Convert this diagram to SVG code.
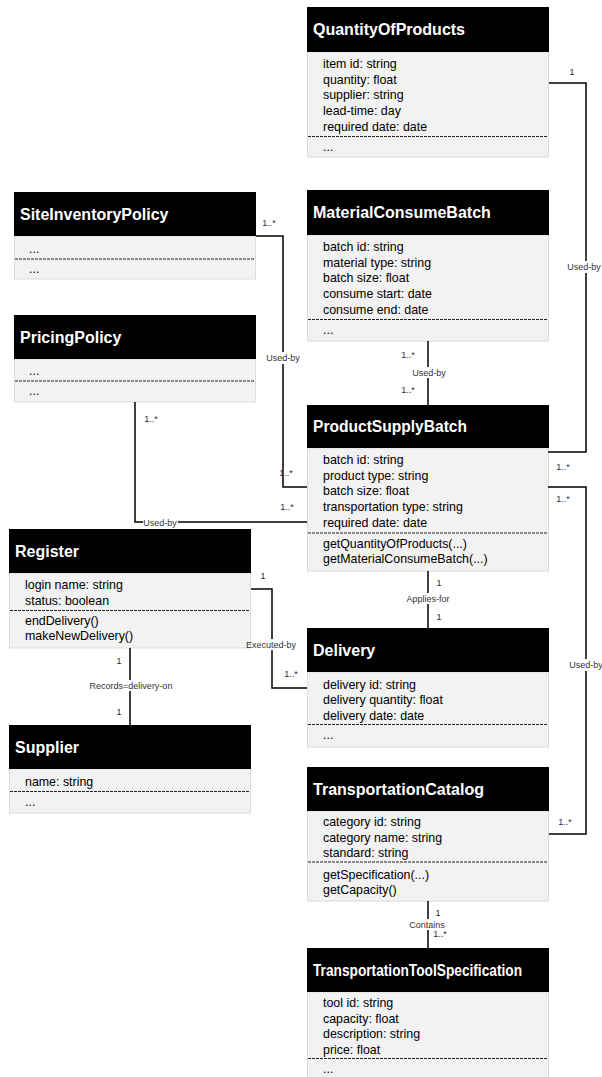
<svg xmlns="http://www.w3.org/2000/svg" width="602" height="1077" viewBox="0 0 602 1077">
<style>
.hd{fill:#000}
.bd{fill:#f2f2f2;stroke:#dcdcdc;stroke-width:1}
.tt{font-family:"Liberation Sans",Arial,sans-serif;font-weight:bold;font-size:16px;fill:#fff}
.at{font-family:"Liberation Sans",Arial,sans-serif;font-size:12.4px;fill:#000}
.dl{stroke:#222;stroke-width:1;stroke-dasharray:3,1}
.cn{fill:none;stroke:#000;stroke-width:1.5}
.lb{font-family:"Liberation Sans",Arial,sans-serif;font-size:9px;fill:#333;text-anchor:middle}
.mu{font-family:"Liberation Sans",Arial,sans-serif;font-size:9px;fill:#1f2a44;text-anchor:middle}
.bg{fill:#fff}
</style>
<rect width="602" height="1077" fill="#fff"/>

<g id="QuantityOfProducts">
  <rect class="bd" x="307.5" y="52" width="241" height="105"/>
  <rect class="hd" x="307" y="7" width="242" height="45"/>
  <text class="tt" x="313" y="35">QuantityOfProducts</text>
  <text class="at" x="323" y="68">item id: string</text>
  <text class="at" x="323" y="83.7">quantity: float</text>
  <text class="at" x="323" y="99.4">supplier: string</text>
  <text class="at" x="323" y="115.1">lead-time: day</text>
  <text class="at" x="323" y="130.8">required date: date</text>
  <line class="dl" x1="308" y1="136.5" x2="548" y2="136.5"/>
  <text class="at" x="323" y="150.5">...</text>
</g>

<g id="MaterialConsumeBatch">
  <rect class="bd" x="307.5" y="235" width="241" height="106"/>
  <rect class="hd" x="307" y="190" width="242" height="45"/>
  <text class="tt" x="313" y="218">MaterialConsumeBatch</text>
  <text class="at" x="323" y="251">batch id: string</text>
  <text class="at" x="323" y="266.7">material type: string</text>
  <text class="at" x="323" y="282.4">batch size: float</text>
  <text class="at" x="323" y="298.1">consume start: date</text>
  <text class="at" x="323" y="313.8">consume end: date</text>
  <line class="dl" x1="308" y1="319.5" x2="548" y2="319.5"/>
  <text class="at" x="323" y="334">...</text>
</g>

<g id="SiteInventoryPolicy">
  <rect class="bd" x="14.5" y="236" width="241" height="43"/>
  <rect class="hd" x="14" y="192" width="242" height="44"/>
  <text class="tt" x="20" y="220">SiteInventoryPolicy</text>
  <text class="at" x="29" y="252.5">...</text>
  <line class="dl" x1="15" y1="259" x2="255" y2="259"/>
  <text class="at" x="29" y="272.5">...</text>
</g>

<g id="PricingPolicy">
  <rect class="bd" x="14.5" y="359" width="241" height="43"/>
  <rect class="hd" x="14" y="315" width="242" height="44"/>
  <text class="tt" x="20" y="343">PricingPolicy</text>
  <text class="at" x="29" y="375">...</text>
  <line class="dl" x1="15" y1="381" x2="255" y2="381"/>
  <text class="at" x="29" y="394.5">...</text>
</g>

<g id="ProductSupplyBatch">
  <rect class="bd" x="307.5" y="448" width="241" height="123"/>
  <rect class="hd" x="307" y="405" width="242" height="43"/>
  <text class="tt" x="313" y="432" textLength="154" lengthAdjust="spacingAndGlyphs">ProductSupplyBatch</text>
  <text class="at" x="323" y="464">batch id: string</text>
  <text class="at" x="323" y="479.7">product type: string</text>
  <text class="at" x="323" y="495.4">batch size: float</text>
  <text class="at" x="323" y="511.1">transportation type: string</text>
  <text class="at" x="323" y="526.8">required date: date</text>
  <line class="dl" x1="308" y1="533" x2="548" y2="533"/>
  <text class="at" x="323" y="547.5">getQuantityOfProducts(...)</text>
  <text class="at" x="323" y="563.2">getMaterialConsumeBatch(...)</text>
</g>

<g id="Register">
  <rect class="bd" x="9.5" y="573" width="241" height="75"/>
  <rect class="hd" x="9" y="529" width="242" height="44"/>
  <text class="tt" x="15" y="557">Register</text>
  <text class="at" x="25" y="589">login name: string</text>
  <text class="at" x="25" y="604.7">status: boolean</text>
  <line class="dl" x1="10" y1="610.5" x2="250" y2="610.5"/>
  <text class="at" x="25" y="624.5">endDelivery()</text>
  <text class="at" x="25" y="640.2">makeNewDelivery()</text>
</g>

<g id="Delivery">
  <rect class="bd" x="307.5" y="672" width="241" height="75"/>
  <rect class="hd" x="307" y="628" width="242" height="44"/>
  <text class="tt" x="313" y="656">Delivery</text>
  <text class="at" x="323" y="688.5">delivery id: string</text>
  <text class="at" x="323" y="704.2">delivery quantity: float</text>
  <text class="at" x="323" y="719.9">delivery date: date</text>
  <line class="dl" x1="308" y1="724.5" x2="548" y2="724.5"/>
  <text class="at" x="323" y="739">...</text>
</g>

<g id="Supplier">
  <rect class="bd" x="9.5" y="769" width="241" height="44"/>
  <rect class="hd" x="9" y="725" width="242" height="44"/>
  <text class="tt" x="15" y="753">Supplier</text>
  <text class="at" x="25" y="785.5">name: string</text>
  <line class="dl" x1="10" y1="791.5" x2="250" y2="791.5"/>
  <text class="at" x="25" y="805.5">...</text>
</g>

<g id="TransportationCatalog">
  <rect class="bd" x="307.5" y="811" width="241" height="90"/>
  <rect class="hd" x="307" y="767" width="242" height="44"/>
  <text class="tt" x="313" y="795" textLength="171" lengthAdjust="spacingAndGlyphs">TransportationCatalog</text>
  <text class="at" x="323" y="826">category id: string</text>
  <text class="at" x="323" y="841.7">category name: string</text>
  <text class="at" x="323" y="857.4">standard: string</text>
  <line class="dl" x1="308" y1="862" x2="548" y2="862"/>
  <text class="at" x="323" y="878.5">getSpecification(...)</text>
  <text class="at" x="323" y="894">getCapacity()</text>
</g>

<g id="TransportationToolSpecification">
  <rect class="bd" x="307.5" y="992" width="241" height="90"/>
  <rect class="hd" x="307" y="948" width="242" height="44"/>
  <text class="tt" x="313" y="976" textLength="209" lengthAdjust="spacingAndGlyphs">TransportationToolSpecification</text>
  <text class="at" x="323" y="1007">tool id: string</text>
  <text class="at" x="323" y="1022.5">capacity: float</text>
  <text class="at" x="323" y="1038">description: string</text>
  <text class="at" x="323" y="1053.5">price: float</text>
  <line class="dl" x1="308" y1="1058.5" x2="548" y2="1058.5"/>
  <text class="at" x="323" y="1072.5">...</text>
</g>

<g id="connectors">
  <polyline class="cn" points="549,83 586,83 586,452 548,452"/>
  <polyline class="cn" points="256,236 283,236 283,487 307,487"/>
  <polyline class="cn" points="135,402 135,522 307,522"/>
  <line class="cn" x1="428" y1="341" x2="428" y2="405"/>
  <polyline class="cn" points="548,487 586,487 586,834 549,834"/>
  <line class="cn" x1="428" y1="571" x2="428" y2="628"/>
  <polyline class="cn" points="251,589 272,589 272,688 307,688"/>
  <line class="cn" x1="130" y1="648" x2="130" y2="725"/>
  <line class="cn" x1="428" y1="901" x2="428" y2="948"/>

  <rect class="bg" x="567" y="261" width="35" height="12"/>
  <text class="lb" x="584" y="270">Used-by</text>
  <text class="mu" x="572" y="75">1</text>
  <text class="mu" x="563" y="470">1..*</text>

  <rect class="bg" x="266" y="352" width="35" height="12"/>
  <text class="lb" x="283" y="361">Used-by</text>
  <text class="mu" x="269" y="226">1..*</text>
  <text class="mu" x="286" y="476">1..*</text>

  <rect class="bg" x="143" y="517" width="35" height="11"/>
  <text class="lb" x="160" y="526">Used-by</text>
  <text class="mu" x="151" y="422">1..*</text>
  <text class="mu" x="287" y="510">1..*</text>

  <rect class="bg" x="411" y="367" width="35" height="11"/>
  <text class="lb" x="429" y="375.5">Used-by</text>
  <text class="mu" x="408" y="358">1..*</text>
  <text class="mu" x="408" y="393">1..*</text>

  <rect class="bg" x="569" y="659" width="35" height="12"/>
  <text class="lb" x="586" y="668">Used-by</text>
  <text class="mu" x="563" y="502">1..*</text>
  <text class="mu" x="565" y="825">1..*</text>

  <rect class="bg" x="406" y="593" width="45" height="11"/>
  <text class="lb" x="428" y="602">Applies-for</text>
  <text class="mu" x="439" y="586">1</text>
  <text class="mu" x="439" y="620">1</text>

  <rect class="bg" x="251" y="639" width="46" height="11"/>
  <text class="lb" x="271" y="648">Executed-by</text>
  <text class="mu" x="263" y="579">1</text>
  <text class="mu" x="291" y="677">1..*</text>

  <rect class="bg" x="88" y="680" width="86" height="11"/>
  <text class="lb" x="131" y="689">Records=delivery-on</text>
  <text class="mu" x="119" y="664">1</text>
  <text class="mu" x="119" y="715">1</text>

  <rect class="bg" x="409" y="919" width="38" height="11"/>
  <text class="lb" x="427" y="927.5">Contains</text>
  <text class="mu" x="438" y="916">1</text>
  <text class="mu" x="440" y="937">1..*</text>
</g>
</svg>
